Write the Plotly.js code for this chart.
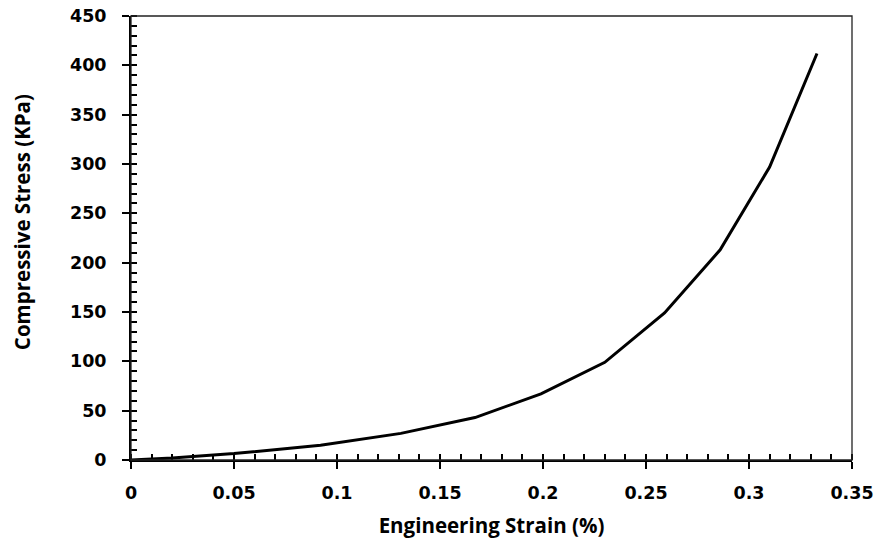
<!DOCTYPE html>
<html>
<head>
<meta charset="utf-8">
<script src="https://cdn.plot.ly/plotly-3.0.1.min.js"></script>
<style>html,body{margin:0;padding:0;background:#fff;}#chart{width:890px;height:541px;}</style>
</head>
<body>
<div id="chart"></div>
<script>
const strain = [0, 0.02, 0.05, 0.092, 0.131, 0.167, 0.199, 0.23, 0.259, 0.286, 0.31, 0.333];
const stress = [0, 2, 6.5, 15, 27, 43, 67, 99, 149, 213, 297, 412];
const xTickVals = [0, 0.05, 0.1, 0.15, 0.2, 0.25, 0.3, 0.35];
const xTickText = ['0', '0.05', '0.1', '0.15', '0.2', '0.25', '0.3', '0.35'];
const yTickVals = [0, 50, 100, 150, 200, 250, 300, 350, 400, 450];
const xTitle = 'Engineering Strain (%)';
const yTitle = 'Compressive Stress (KPa)';

const tickFont = {family: 'DejaVu Sans, Verdana, sans-serif', size: 17.5, color: '#000', weight: 'bold'};
const titleFont = {family: 'Open Sans, sans-serif', size: 20.5, color: '#000', weight: 'bold'};

const traces = [
  {x: strain, y: stress, type: 'scatter', mode: 'lines',
   line: {color: '#000', width: 3}, hoverinfo: 'x+y'},
  {x: [null], y: [null], xaxis: 'x2', yaxis: 'y2', type: 'scatter', mode: 'lines',
   showlegend: false, hoverinfo: 'skip'}
];

const layout = {
  width: 890, height: 541,
  margin: {l: 131, r: 38, t: 16, b: 81},
  paper_bgcolor: '#fff', plot_bgcolor: '#fff',
  showlegend: false,
  xaxis: {
    range: [0, 0.35], tickmode: 'array', tickvals: xTickVals, ticktext: xTickText,
    showgrid: false, zeroline: false, showline: true, linecolor: '#000', linewidth: 2,
    ticks: 'outside', ticklen: 7, tickwidth: 2, tickcolor: '#000', ticklabelstandoff: 9,
    minor: {dtick: 0.01, tick0: 0, ticks: 'inside', ticklen: 6, tickwidth: 1.5, tickcolor: '#000', showgrid: false},
    tickfont: tickFont,
    title: {text: xTitle, font: titleFont, standoff: 17}
  },
  yaxis: {
    range: [0, 450], tickmode: 'array', tickvals: yTickVals,
    showgrid: false, zeroline: false, showline: true, linecolor: '#000', linewidth: 2,
    ticks: 'outside', ticklen: 7, tickwidth: 2, tickcolor: '#000', ticklabelstandoff: 12,
    minor: {dtick: 10, tick0: 0, ticks: 'inside', ticklen: 6, tickwidth: 1.5, tickcolor: '#000', showgrid: false},
    tickfont: tickFont
  },
  xaxis2: {
    overlaying: 'x', range: [0, 0.35], tickmode: 'array', tickvals: xTickVals,
    showticklabels: false, showgrid: false, zeroline: false, showline: false,
    ticks: 'inside', ticklen: 6, tickwidth: 2, tickcolor: '#000', side: 'bottom'
  },
  yaxis2: {
    overlaying: 'y', range: [0, 450], tickmode: 'array', tickvals: yTickVals,
    showticklabels: false, showgrid: false, zeroline: false, showline: false,
    ticks: 'inside', ticklen: 6, tickwidth: 2, tickcolor: '#000', side: 'left'
  },
  annotations: [
    {text: yTitle, xref: 'paper', yref: 'paper', x: -0.151, y: 0.536,
     xanchor: 'center', yanchor: 'middle', textangle: -90, showarrow: false, font: titleFont}
  ],
  shapes: [
    {type: 'rect', xref: 'paper', yref: 'paper', x0: 0, x1: 1, y0: 0, y1: 1,
     line: {color: '#222', width: 1.3}, fillcolor: 'rgba(0,0,0,0)', layer: 'above'}
  ]
};

Plotly.newPlot('chart', traces, layout, {displayModeBar: false, responsive: false});
</script>
</body>
</html>
